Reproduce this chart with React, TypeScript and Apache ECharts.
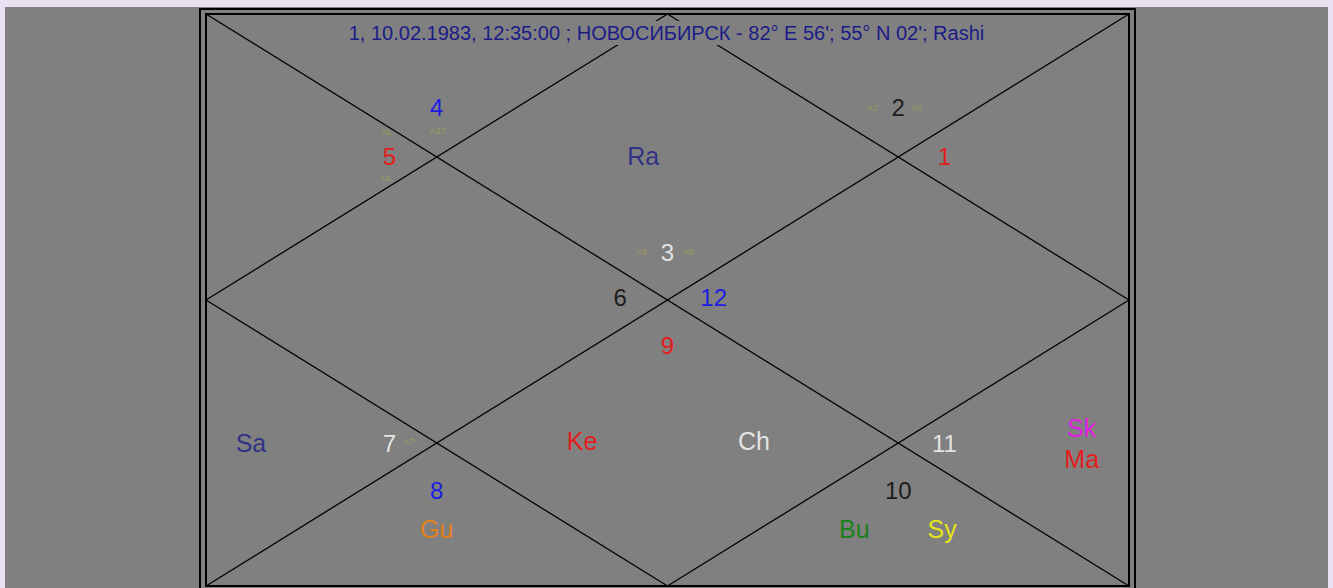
import React, { useEffect, useRef } from "react";
import * as echarts from "echarts";

// Chart header
const titleText = "1, 10.02.1983, 12:35:00 ; НОВОСИБИРСК - 82° E 56'; 55° N 02'; Rashi";

// Chart space: 8 x 8 units (x to the right, y downward)
const diagonalA: [number, number][] = [[0, 0], [8, 8]];
const diagonalB: [number, number][] = [[8, 0], [0, 8]];
const diamond: [number, number][] = [[4, 0], [8, 4], [4, 8], [0, 4], [4, 0]];

// Sign numbers placed in houses
const signLabels = ["1", "2", "3", "4", "5", "6", "7", "8", "9", "10", "11", "12"];
const signColors = ["#ff0000", "#000000", "#ffffff", "#0000ff", "#ff0000", "#000000", "#ffffff", "#0000ff", "#ff0000", "#000000", "#ffffff", "#0000ff"];
const signX = [6.4, 6.0, 4.0, 2.0, 1.59, 3.59, 1.59, 2.0, 4.0, 6.0, 6.4, 4.4];
const signY = [1.99, 1.31, 3.33, 1.31, 1.99, 3.97, 6.0, 6.67, 4.64, 6.67, 6.0, 3.97];

// Planets
const planetLabels = ["Ra", "Sa", "Ke", "Ch", "Sk", "Ma", "Gu", "Bu", "Sy"];
const planetColors = ["#1c1c88", "#1c1c88", "#ff0000", "#ffffff", "#ff00ff", "#ff0000", "#ff8000", "#008000", "#ffff00"];
const planetX = [3.79, 0.39, 3.26, 4.75, 7.59, 7.59, 2.0, 5.62, 6.38];
const planetY = [1.99, 6.0, 5.97, 5.97, 5.79, 6.22, 7.2, 7.2, 7.2];

// Small arudha marks
const padaLabels = ["AL", "A10", "UL", "A2", "A6", "A5", "A8", "A7"];
const padaX = [1.57, 2.01, 1.57, 5.78, 6.16, 3.78, 4.18, 1.76];
const padaY = [1.65, 1.64, 2.29, 1.31, 1.31, 3.33, 3.33, 5.99];

const FONT = "'Liberation Sans', Arial, sans-serif";

function textSeries(labels: string[], xs: number[], ys: number[], colors: string[], size: number) {
  return {
    type: "scatter",
    symbolSize: 0,
    silent: true,
    z: 5,
    itemStyle: { color: "transparent" },
    data: labels.map((t, i) => ({
      name: t,
      value: [xs[i], ys[i]],
      label: { color: colors[i] },
    })),
    label: {
      show: true,
      position: "inside",
      formatter: (p: any) => p.name,
      fontSize: size,
      fontFamily: FONT,
      fontWeight: "normal",
    },
  };
}

function lineSeries(pts: [number, number][]) {
  return {
    type: "line",
    data: pts,
    symbol: "none",
    silent: true,
    z: 2,
    lineStyle: { color: "#000000", width: 1.3 },
  };
}

export default function App() {
  const ref = useRef<HTMLDivElement>(null);

  useEffect(() => {
    document.body.style.background = "#e7e1f1";
    document.body.style.margin = "0";
    const chart = echarts.init(ref.current!, null, { renderer: "svg" });
    chart.setOption({
      animation: false,
      backgroundColor: "#808080",
      grid: { left: 201, top: 7, right: 199, bottom: 2, containLabel: false },
      xAxis: { type: "value", min: 0, max: 8, show: false },
      yAxis: { type: "value", min: 0, max: 8, inverse: true, show: false },
      title: {
        text: titleText,
        left: "center",
        top: 14,
        padding: [2, 6],
        backgroundColor: "#808080",
        z: 10,
        textStyle: { color: "#1c1c88", fontSize: 20, fontWeight: "normal", fontFamily: FONT },
      },
      graphic: [
        {
          type: "rect",
          z: 20,
          shape: { x: 195, y: 2, width: 935, height: 620 },
          style: { fill: "none", stroke: "#000000", lineWidth: 2 },
          silent: true,
        },
        {
          type: "rect",
          z: 20,
          shape: { x: 201, y: 7, width: 923, height: 572 },
          style: { fill: "none", stroke: "#000000", lineWidth: 2 },
          silent: true,
        },
      ],
      series: [
        lineSeries(diagonalA),
        lineSeries(diagonalB),
        lineSeries(diamond),
        textSeries(signLabels, signX, signY, signColors, 24),
        textSeries(planetLabels, planetX, planetY, planetColors, 25),
        textSeries(padaLabels, padaX, padaY, padaLabels.map(() => "#a0a050"), 9),
      ],
    });
    return () => chart.dispose();
  }, []);

  return (
    <div
      ref={ref}
      style={{ position: "fixed", left: 5, top: 7, width: 1323, height: 581 }}
    />
  );
}
